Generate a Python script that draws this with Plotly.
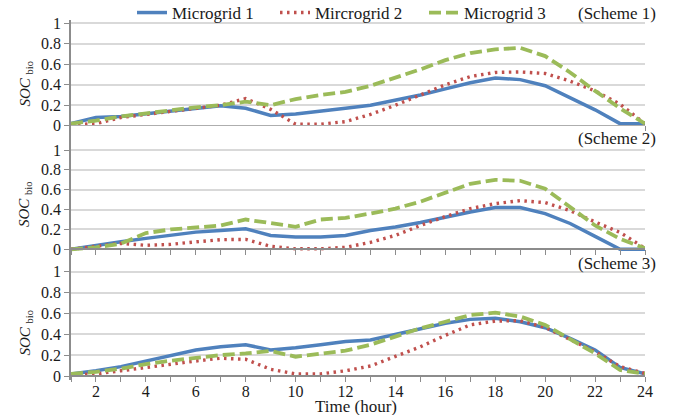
import plotly.graph_objects as go

# Hour of day (x axis)
hours = list(range(1, 25))

# Scheme 1
s1_mg1 = [0.02, 0.08, 0.09, 0.115, 0.145, 0.17, 0.195, 0.17, 0.10, 0.115, 0.14, 0.17, 0.20,
          0.25, 0.30, 0.36, 0.42, 0.465, 0.45, 0.39, 0.27, 0.155, 0.02, 0.02]
s1_mg2 = [0.01, 0.02, 0.08, 0.11, 0.14, 0.17, 0.20, 0.265, 0.16, 0.015, 0.015, 0.04, 0.11,
          0.20, 0.30, 0.40, 0.48, 0.52, 0.525, 0.51, 0.435, 0.34, 0.21, 0.02]
s1_mg3 = [0.02, 0.05, 0.09, 0.12, 0.15, 0.18, 0.20, 0.235, 0.20, 0.26, 0.30, 0.33, 0.39,
          0.47, 0.55, 0.64, 0.71, 0.745, 0.76, 0.68, 0.52, 0.34, 0.17, 0.02]

# Scheme 2
s2_mg1 = [0.0, 0.04, 0.075, 0.11, 0.145, 0.173, 0.19, 0.207, 0.14, 0.123, 0.123, 0.14, 0.19,
          0.224, 0.27, 0.325, 0.376, 0.42, 0.42, 0.36, 0.26, 0.13, 0.0, 0.0]
s2_mg2 = [0.0, 0.03, 0.06, 0.04, 0.05, 0.075, 0.097, 0.10, 0.03, 0.005, 0.005, 0.02, 0.07,
          0.14, 0.24, 0.33, 0.41, 0.46, 0.49, 0.47, 0.39, 0.275, 0.17, 0.01]
s2_mg3 = [0.0, 0.02, 0.057, 0.163, 0.20, 0.22, 0.24, 0.30, 0.263, 0.227, 0.30, 0.317, 0.36,
          0.41, 0.48, 0.57, 0.66, 0.70, 0.69, 0.61, 0.43, 0.24, 0.105, 0.01]

# Scheme 3
s3_mg1 = [0.02, 0.05, 0.09, 0.144, 0.20, 0.25, 0.28, 0.30, 0.25, 0.27, 0.30, 0.33, 0.345,
          0.40, 0.457, 0.505, 0.543, 0.553, 0.52, 0.463, 0.36, 0.25, 0.083, 0.02]
s3_mg2 = [0.01, 0.02, 0.05, 0.083, 0.115, 0.144, 0.17, 0.16, 0.064, 0.02, 0.02, 0.05, 0.096,
          0.185, 0.28, 0.39, 0.49, 0.527, 0.53, 0.466, 0.345, 0.233, 0.09, 0.025]
s3_mg3 = [0.02, 0.04, 0.07, 0.115, 0.147, 0.175, 0.20, 0.217, 0.24, 0.185, 0.217, 0.243, 0.30,
          0.377, 0.457, 0.52, 0.585, 0.607, 0.57, 0.49, 0.35, 0.217, 0.057, 0.02]

series_names = ["Microgrid 1", "Mircrogrid 2", "Microgrid 3"]
scheme_labels = ["(Scheme 1)", "(Scheme 2)", "(Scheme 3)"]
x_title = "Time (hour)"
y_ticks = [0, 0.2, 0.4, 0.6, 0.8, 1]
y_ticktext = ["0", "0.2", "0.4", "0.6", "0.8", "1"]
x_labelled = [h for h in hours if h % 2 == 0]

schemes = [
    [s1_mg1, s1_mg2, s1_mg3],
    [s2_mg1, s2_mg2, s2_mg3],
    [s3_mg1, s3_mg2, s3_mg3],
]

# ---- layout geometry (pixels) ----
W, H = 673, 415
ML, MR, MT, MB = 71, 28, 20, 35
plot_h = H - MT - MB
plot_bottom = H - MB


def frac(px):
    return (plot_bottom - px) / plot_h


# per panel: pixel of y=0, pixels per unit, pixel of top of panel
panels = [
    dict(zero=125.7, unit=102.4, top=20.0),
    dict(zero=249.3, unit=99.3, top=125.7),
    dict(zero=376.0, unit=104.3, top=249.3),
]
pad = 0.035

colors = ["#4F81BD", "#C0504D", "#9BBB59"]
dashes = ["solid", "2.5px,4.5px", "12px,5px"]
widths = [3.5, 3.4, 3.8]

FONT = "Liberation Serif, Times New Roman, serif"
TXT = "#1a1a1a"
GRID = "#D9D9D9"
AXIS = "#8C8C8C"
TICK_SIZE = 16
LABEL_SIZE = 17

fig = go.Figure()

legend_x_px = [132, 275, 424]
legend_keys = ["legend", "legend2", "legend3"]

for p, data in enumerate(schemes):
    ax = "" if p == 0 else str(p + 1)
    for s, vals in enumerate(data):
        fig.add_trace(go.Scatter(
            x=hours, y=vals, mode="lines",
            name=series_names[s],
            line=dict(color=colors[s], width=widths[s], dash=dashes[s]),
            xaxis="x" + ax, yaxis="y" + ax,
            showlegend=(p == 0),
            legend=legend_keys[s],
        ))

layout = dict(
    width=W, height=H,
    margin=dict(l=ML, r=MR, t=MT, b=MB, pad=0, autoexpand=False),
    paper_bgcolor="white", plot_bgcolor="white",
    font=dict(family=FONT, size=TICK_SIZE, color=TXT),
    annotations=[],
)

for p, g in enumerate(panels):
    ax = "" if p == 0 else str(p + 1)
    ymax = (g["zero"] - g["top"]) / g["unit"]
    bottom_px = g["zero"] + pad * g["unit"]
    layout["yaxis" + ax] = dict(
        domain=[max(0.0, frac(bottom_px)), min(1.0, frac(g["top"]))],
        range=[-pad, ymax],
        anchor="x" + ax,
        tickvals=y_ticks, ticktext=y_ticktext,
        showgrid=True, gridcolor=GRID, gridwidth=1.5,
        zeroline=False,
        showline=True, linecolor=AXIS, linewidth=1.5,
        ticks="outside", ticklen=5, tickcolor=AXIS, tickwidth=1.3,
        tickfont=dict(family=FONT, size=TICK_SIZE, color=TXT),
        automargin=False,
    )
    last = p == 2
    layout["xaxis" + ax] = dict(
        domain=[0, 1], range=[1, 24],
        anchor="free", position=frac(g["zero"]),
        tickvals=x_labelled if last else hours,
        showticklabels=last,
        ticklabelstandoff=-4,
        showgrid=False, zeroline=False,
        showline=True, linecolor=AXIS, linewidth=1.5,
        ticks="outside", ticklen=5, tickcolor=AXIS, tickwidth=1.3,
        minor=dict(tickvals=hours, ticks="outside", ticklen=5,
                   tickcolor=AXIS, tickwidth=1.3, showgrid=False),
        tickfont=dict(family=FONT, size=TICK_SIZE, color=TXT),
        automargin=False,
    )
    # y-axis title
    layout["annotations"].append(dict(
        text="<i>SOC</i> <sub>bio</sub>", textangle=-90,
        xref="paper", yref="paper",
        x=0, y=frac([83.5, 204, 332.5][p]),
        xanchor="center", yanchor="middle", xshift=-46,
        showarrow=False, font=dict(family=FONT, size=15, color=TXT),
    ))
    # scheme label
    layout["annotations"].append(dict(
        text=scheme_labels[p], xref="paper", yref="paper",
        x=1 + (658 - (W - MR)) / (W - ML - MR),
        y=frac([13, 138, 263][p]),
        xanchor="right", yanchor="middle",
        showarrow=False, font=dict(family=FONT, size=LABEL_SIZE, color=TXT),
    ))

# x-axis title below the bottom panel
layout["annotations"].append(dict(
    text=x_title, xref="paper", yref="paper",
    x=(356 - ML) / (W - ML - MR), y=frac(406.5),
    xanchor="center", yanchor="middle",
    showarrow=False, font=dict(family=FONT, size=LABEL_SIZE, color=TXT),
))

for k, xpx in zip(legend_keys, legend_x_px):
    layout[k] = dict(
        orientation="h", x=(xpx - ML) / (W - ML - MR), y=frac(13),
        xanchor="left", yanchor="middle",
        bgcolor="rgba(0,0,0,0)", borderwidth=0,
        font=dict(family=FONT, size=LABEL_SIZE, color=TXT),
        itemwidth=30,
    )

fig.update_layout(**layout)
fig.write_html("out.html")
